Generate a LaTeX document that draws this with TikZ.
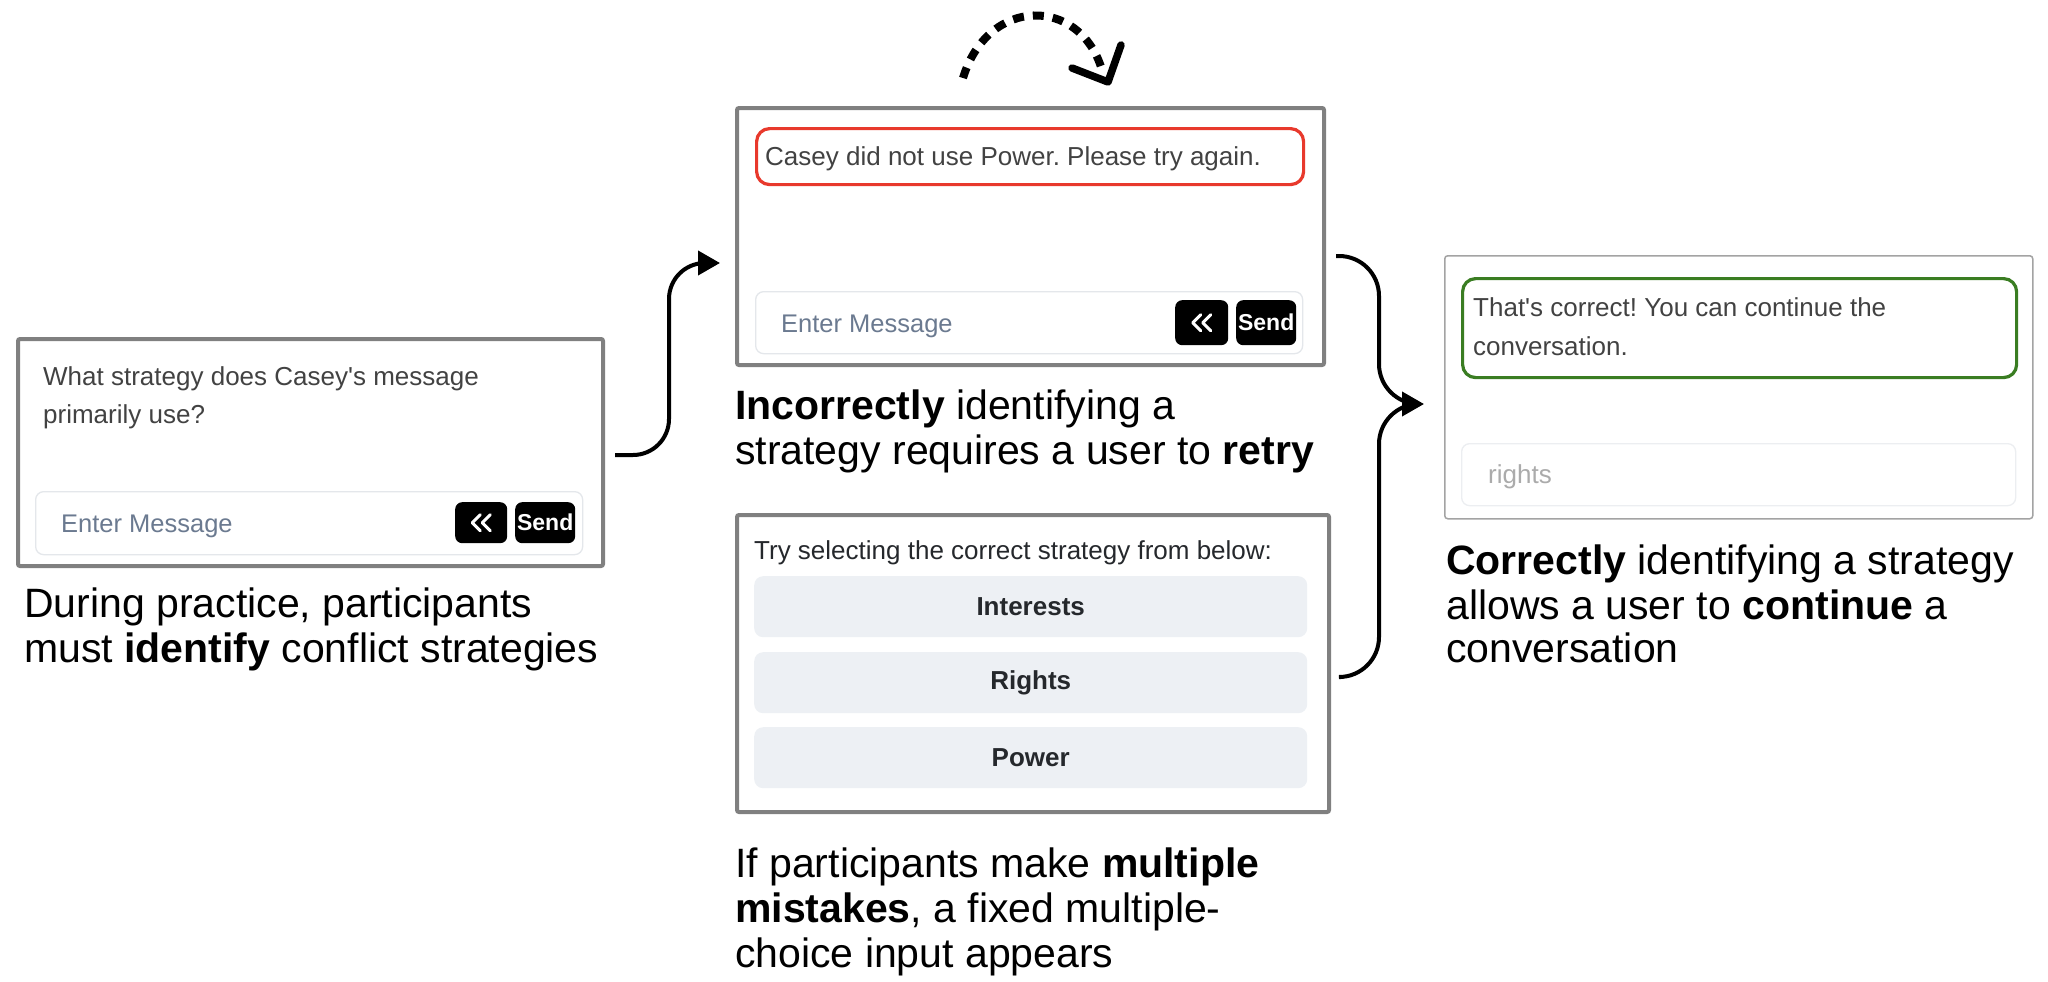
\documentclass[tikz,border=0pt]{standalone}
\usepackage{fontspec}
\setmainfont{Liberation Sans}[Ligatures=TeXOff]
\frenchspacing
\usetikzlibrary{arrows.meta}
\definecolor{panelgray}{HTML}{808080}
\definecolor{thingray}{HTML}{A3A3A3}
\definecolor{uitextc}{HTML}{424242}
\definecolor{placec}{HTML}{6B7A90}
\definecolor{inputborder}{HTML}{E4E7EB}
\definecolor{btnbg}{HTML}{EDF0F4}
\definecolor{btntext}{HTML}{25282C}
\definecolor{errred}{HTML}{E8392C}
\definecolor{okgreen}{HTML}{3A7D22}
\definecolor{lightph}{HTML}{ABABAB}
\begin{document}
\begin{tikzpicture}[x=1pt,y=-1pt,
  panel/.style={draw=panelgray, line width=4pt, rounded corners=2pt, anchor=north west, inner sep=0pt},
  thinpanel/.style={draw=thingray, line width=1.5pt, rounded corners=3pt, anchor=north west, inner sep=0pt},
  uitext/.style={anchor=base west, inner sep=0pt, text=uitextc, font=\fontsize{26}{30}\selectfont},
  placeholder/.style={anchor=base west, inner sep=0pt, text=placec, font=\fontsize{25.5}{30}\selectfont},
  inputbox/.style={draw=inputborder, line width=1.3pt, rounded corners=8pt, anchor=north west, inner sep=0pt},
  blackbtn/.style={fill=black, rounded corners=7pt, anchor=north west, inner sep=0pt, text=white, font=\bfseries\fontsize{23}{25}\selectfont},
  chev/.style={draw=white, line width=3pt, line cap=round, line join=round},
  msgbox/.style={line width=3.2pt, rounded corners=13pt, anchor=north west, inner sep=0pt},
  choice/.style={fill=btnbg, rounded corners=9pt, anchor=north west, inner sep=0pt, text=btntext, font=\bfseries\fontsize{26}{30}\selectfont},
  caption/.style={anchor=base west, inner sep=0pt, text=black, font=\fontsize{41}{45}\selectfont},
  flow/.style={draw=black, line width=4pt, rounded corners=36pt, -{Triangle[length=22pt,width=24pt]}},
  flowplain/.style={draw=black, line width=4pt, rounded corners=40pt},
  retry/.style={draw=black, line width=8pt, dash pattern=on 11pt off 9pt},
  retryhead/.style={draw=black, line width=7.5pt, line cap=round, line join=round}
]
\useasboundingbox[fill=white] (0,0) rectangle (2048,982);

% ---------- left panel ----------
\node[panel, minimum width=585pt, minimum height=227pt] (p1) at (16,337) {};
\node[uitext] (q1) at (43,385) {What strategy does Casey's message};
\node[uitext] (q2) at (43,423) {primarily use?};
\node[inputbox, minimum width=547pt, minimum height=63pt] (in1) at (35,491) {};
\node[placeholder] (ph1) at (61,532) {Enter Message};
\node[blackbtn, minimum width=52pt, minimum height=41pt] (bb1) at (455,502) {};
\node[blackbtn, minimum width=60pt, minimum height=41pt] (send1) at (515,502) {Send};
\draw[chev] ([shift={(-1,-8)}]bb1.center) -- ++(-8,8) -- ++(8,8);
\draw[chev] ([shift={(9,-8)}]bb1.center) -- ++(-8,8) -- ++(8,8);
\node[caption] (c1a) at (24,617) {During practice, participants};
\node[caption] (c1b) at (24,662) {must \textbf{identify} conflict strategies};

% ---------- middle top panel ----------
\node[panel, minimum width=587pt, minimum height=257pt] (p2) at (735,106) {};
\node[msgbox, draw=errred, minimum width=547pt, minimum height=56pt] (err) at (755,127) {};
\node[uitext] (errt) at (765,165) {Casey did not use Power. Please try again.};
\node[inputbox, minimum width=547pt, minimum height=62pt] (in2) at (755,291) {};
\node[placeholder] (ph2) at (781,332) {Enter Message};
\node[blackbtn, minimum width=53pt, minimum height=45pt] (bb2) at (1175,300) {};
\node[blackbtn, minimum width=60pt, minimum height=45pt] (send2) at (1236,300) {Send};
\draw[chev] ([shift={(-1,-8)}]bb2.center) -- ++(-8,8) -- ++(8,8);
\draw[chev] ([shift={(9,-8)}]bb2.center) -- ++(-8,8) -- ++(8,8);
\node[caption] (c2a) at (735,419) {\textbf{Incorrectly} identifying a};
\node[caption] (c2b) at (735,464) {strategy requires a user to \textbf{retry}};

% retry loop arrow
\coordinate (rs) at (963,78);
\coordinate (re) at (1102,70);
\coordinate (rtip) at (1108,82);
\coordinate (rl) at (1072,68);
\coordinate (rr) at (1121,45);
\draw[retry] (rs) .. controls (988,-4) and (1080,-4) .. (re);
\draw[retryhead] (rl) -- (rtip) -- (rr);

% ---------- middle bottom panel ----------
\node[panel, minimum width=592pt, minimum height=297pt] (p3) at (735,513) {};
\node[uitext, text=btntext] (tryt) at (754,559) {Try selecting the correct strategy from below:};
\node[choice, minimum width=553pt, minimum height=61pt] (o1) at (754,576) {Interests};
\node[choice, minimum width=553pt, minimum height=61pt] (o2) at (754,652) {Rights};
\node[choice, minimum width=553pt, minimum height=61pt] (o3) at (754,727) {Power};
\node[caption] (c3a) at (735,877) {If participants make \textbf{multiple}};
\node[caption] (c3b) at (735,922) {\textbf{mistakes}, a fixed multiple-};
\node[caption] (c3c) at (735,967) {choice input appears};

% ---------- right panel ----------
\node[thinpanel, minimum width=588pt, minimum height=263pt] (p4) at (1444,255) {};
\node[msgbox, draw=okgreen, minimum width=554pt, minimum height=99pt] (ok) at (1461,277) {};
\node[uitext] (ok1) at (1473,316) {That's correct! You can continue the};
\node[uitext] (ok2) at (1473,355) {conversation.};
\node[inputbox, draw=inputborder!70, minimum width=554pt, minimum height=62pt] (in4) at (1461,443) {};
\node[uitext, text=lightph] (ph4) at (1488,483) {rights};
\node[caption] (c4a) at (1446,574) {\textbf{Correctly} identifying a strategy};
\node[caption] (c4b) at (1446,619) {allows a user to \textbf{continue} a};
\node[caption] (c4c) at (1446,662) {conversation};

% ---------- connectors ----------
\coordinate (a1s) at ([xshift=10pt]p1.east |- 0,455);
\coordinate (a1e) at ([xshift=-15pt]p2.west |- 0,263);
\draw[flow] (a1s) -| (669,263) -- (a1e);

\coordinate (b1s) at ([xshift=10pt]p2.north east |- 0,256);
\coordinate (b2s) at ([xshift=10pt]p3.east |- 0,677);
\coordinate (bend) at ([xshift=-20pt]p4.west |- 0,404);
\draw[flowplain] (b1s) -| (1379,404) -- ([xshift=-20pt]bend);
\draw[flowplain] (b2s) -| (1379,404) -- ([xshift=-20pt]bend);
\draw[flow] ([xshift=-22pt]bend) -- (bend);
\end{tikzpicture}
\end{document}
